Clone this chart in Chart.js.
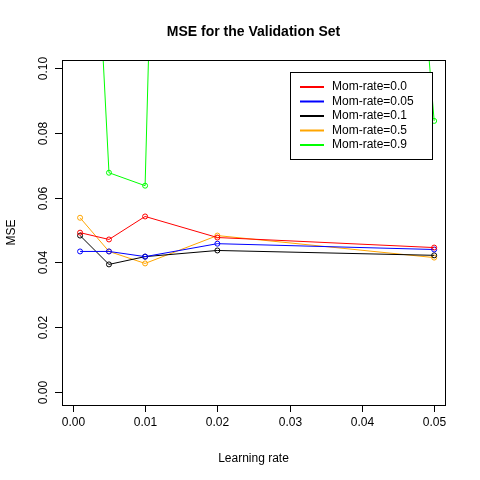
<!DOCTYPE html>
<html lang="en">
<head>
<meta charset="UTF-8">
<title>MSE for the Validation Set</title>
<script src="https://cdn.jsdelivr.net/npm/chart.js"></script>
<style>
  body { margin: 0; background: #fff; }
  #wrap { width: 480px; height: 480px; }
</style>
</head>
<body>
<div id="wrap"><canvas id="c" width="480" height="480"></canvas></div>
<script>
const rates = [0.001, 0.005, 0.01, 0.02, 0.05];
const seriesNames = ['Mom-rate=0.0', 'Mom-rate=0.05', 'Mom-rate=0.1', 'Mom-rate=0.5', 'Mom-rate=0.9'];
const seriesColors = ['#ff0000', '#0000ff', '#000000', '#ffa500', '#00ff00'];
const mom00 = [0.0492, 0.0471, 0.0542, 0.0477, 0.0446];
const mom05 = [0.0434, 0.0434, 0.0418, 0.0458, 0.0440];
const mom10 = [0.0483, 0.0394, 0.0418, 0.0437, 0.0422];
const mom50 = [0.0538, 0.0434, 0.0397, 0.0483, 0.0415];
const mom90 = [0.242, 0.0677, 0.0637, 0.9, 0.0837];
const xTicks = [0.00, 0.01, 0.02, 0.03, 0.04, 0.05];
const yTicks = [0.00, 0.02, 0.04, 0.06, 0.08, 0.10];

const allSeries = [mom00, mom05, mom10, mom50, mom90];
const datasets = allSeries.map((vals, i) => ({
  label: seriesNames[i],
  data: vals.map((v, j) => ({ x: rates[j], y: v })),
  borderColor: seriesColors[i],
  backgroundColor: 'transparent',
  pointBorderColor: seriesColors[i],
  pointBackgroundColor: 'transparent',
  pointRadius: 2.5,
  pointBorderWidth: 1,
  borderWidth: 1,
  tension: 0
}));

const font = '12px "Liberation Sans", Arial, sans-serif';

const rStyle = {
  id: 'rStyle',
  afterDraw(chart) {
    const ctx = chart.ctx, a = chart.chartArea;
    const xs = chart.scales.x, ys = chart.scales.y;
    ctx.save();
    ctx.strokeStyle = '#000'; ctx.lineWidth = 1;
    ctx.strokeRect(a.left + 0.5, a.top + 0.5, a.right - a.left, a.bottom - a.top);
    ctx.fillStyle = '#000'; ctx.font = font;
    // x ticks
    ctx.textAlign = 'center'; ctx.textBaseline = 'top';
    ctx.beginPath();
    xTicks.forEach(t => {
      const px = Math.round(xs.getPixelForValue(t)) + 0.5;
      ctx.moveTo(px, a.bottom); ctx.lineTo(px, a.bottom + 7);
      ctx.fillText(t.toFixed(2), px, a.bottom + 12);
    });
    ctx.stroke();
    // y ticks, rotated
    ctx.beginPath();
    yTicks.forEach(t => {
      const py = Math.round(ys.getPixelForValue(t)) + 0.5;
      ctx.moveTo(a.left, py); ctx.lineTo(a.left - 7, py);
      ctx.save();
      ctx.translate(a.left - 12, py); ctx.rotate(-Math.PI / 2);
      ctx.textBaseline = 'bottom';
      ctx.fillText(t.toFixed(2), 0, 0);
      ctx.restore();
    });
    ctx.stroke();
    // axis titles
    ctx.textBaseline = 'middle';
    ctx.fillText('Learning rate', (a.left + a.right) / 2, 459);
    ctx.save();
    ctx.translate(12, (a.top + a.bottom) / 2); ctx.rotate(-Math.PI / 2);
    ctx.fillText('MSE', 0, 0);
    ctx.restore();
    // title
    ctx.font = 'bold 14px "Liberation Sans", Arial, sans-serif';
    ctx.fillText('MSE for the Validation Set', (a.left + a.right) / 2, 32);
    // legend
    const lx = 290, ly = 72, lw = 142, lh = 87;
    ctx.fillStyle = '#fff';
    ctx.fillRect(lx, ly, lw, lh);
    ctx.strokeRect(lx + 0.5, ly + 0.5, lw, lh);
    ctx.font = font; ctx.textAlign = 'left';
    seriesNames.forEach((n, i) => {
      const yy = ly + 15 + i * 14.5;
      ctx.strokeStyle = seriesColors[i]; ctx.lineWidth = 2;
      ctx.beginPath(); ctx.moveTo(lx + 10, yy); ctx.lineTo(lx + 34, yy); ctx.stroke();
      ctx.fillStyle = '#000';
      ctx.fillText(n, lx + 42, yy);
    });
    ctx.restore();
  }
};

new Chart(document.getElementById('c'), {
  type: 'line',
  data: { datasets: datasets },
  options: {
    responsive: false,
    animation: false,
    layout: { padding: { left: 0, right: 35, top: 60, bottom: 0 } },
    plugins: { legend: { display: false }, title: { display: false }, tooltip: { enabled: false } },
    scales: {
      x: {
        type: 'linear', min: -0.0015, max: 0.0515,
        grid: { display: false }, border: { display: false },
        ticks: { display: false },
        afterFit(s) { s.height = 75; }
      },
      y: {
        min: -0.004, max: 0.1025,
        grid: { display: false }, border: { display: false },
        ticks: { display: false },
        afterFit(s) { s.width = 62; }
      }
    }
  },
  plugins: [rStyle]
});
</script>
</body>
</html>
